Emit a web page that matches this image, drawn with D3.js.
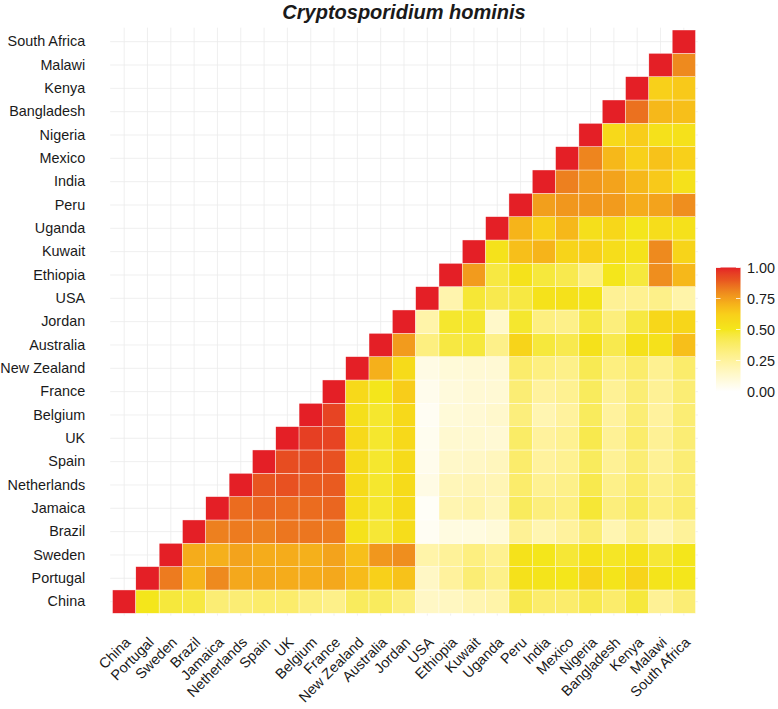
<!DOCTYPE html>
<meta charset="utf-8">
<style>
	body { margin: 0; background: #fff; }
	text { font-family: "Liberation Sans", Arial, sans-serif; fill: #1a1a1a; }
</style>
<svg width="778" height="709"></svg>
<script src="https://d3js.org/d3.v7.min.js"></script>
<script>
	// countries, in the same order on both axes (bottom->top, left->right)
	var countries = ['China', 'Portugal', 'Sweden', 'Brazil', 'Jamaica', 'Netherlands', 'Spain', 'UK',
		'Belgium', 'France', 'New Zealand', 'Australia', 'Jordan', 'USA', 'Ethiopia', 'Kuwait', 'Uganda',
		'Peru', 'India', 'Mexico', 'Nigeria', 'Bangladesh', 'Kenya', 'Malawi', 'South Africa']

	// one row per country: values from its own column (diagonal = 1) to South Africa
	var similarity = [
		[1, 0.50, 0.46, 0.45, 0.35, 0.35, 0.37, 0.37, 0.33, 0.30, 0.40, 0.40, 0.33, 0.15, 0.16, 0.20, 0.22, 0.43, 0.37, 0.37, 0.43, 0.37, 0.46, 0.27, 0.35],
		[1, 0.83, 0.70, 0.80, 0.73, 0.73, 0.72, 0.72, 0.73, 0.68, 0.62, 0.66, 0.15, 0.25, 0.35, 0.30, 0.53, 0.51, 0.50, 0.60, 0.51, 0.60, 0.51, 0.50],
		[1, 0.72, 0.71, 0.74, 0.72, 0.72, 0.71, 0.74, 0.67, 0.77, 0.79, 0.22, 0.26, 0.32, 0.28, 0.52, 0.50, 0.47, 0.52, 0.49, 0.52, 0.47, 0.50],
		[1, 0.82, 0.83, 0.82, 0.84, 0.84, 0.83, 0.52, 0.47, 0.55, 0.03, 0.08, 0.08, 0.10, 0.27, 0.20, 0.25, 0.35, 0.20, 0.30, 0.19, 0.26],
		[1, 0.86, 0.87, 0.86, 0.86, 0.87, 0.55, 0.48, 0.56, 0.02, 0.20, 0.22, 0.18, 0.40, 0.33, 0.32, 0.47, 0.33, 0.40, 0.32, 0.37],
		[1, 0.90, 0.91, 0.89, 0.89, 0.56, 0.48, 0.56, 0.07, 0.18, 0.19, 0.19, 0.37, 0.28, 0.30, 0.43, 0.30, 0.37, 0.30, 0.35],
		[1, 0.92, 0.92, 0.91, 0.56, 0.48, 0.56, 0.05, 0.14, 0.15, 0.17, 0.37, 0.25, 0.28, 0.40, 0.27, 0.35, 0.27, 0.35],
		[1, 0.95, 0.94, 0.57, 0.48, 0.57, 0.04, 0.12, 0.12, 0.11, 0.38, 0.25, 0.28, 0.43, 0.27, 0.37, 0.27, 0.35],
		[1, 0.94, 0.54, 0.48, 0.57, 0.03, 0.10, 0.11, 0.13, 0.33, 0.20, 0.25, 0.40, 0.25, 0.35, 0.25, 0.35],
		[1, 0.57, 0.50, 0.63, 0.05, 0.09, 0.11, 0.11, 0.35, 0.25, 0.28, 0.40, 0.27, 0.35, 0.27, 0.35],
		[1, 0.71, 0.56, 0.07, 0.10, 0.11, 0.11, 0.37, 0.32, 0.30, 0.42, 0.32, 0.37, 0.28, 0.37],
		[1, 0.76, 0.32, 0.45, 0.46, 0.30, 0.60, 0.46, 0.43, 0.53, 0.43, 0.53, 0.53, 0.67],
		[1, 0.22, 0.48, 0.48, 0.14, 0.48, 0.32, 0.30, 0.45, 0.33, 0.45, 0.58, 0.59],
		[1, 0.21, 0.47, 0.43, 0.45, 0.52, 0.53, 0.51, 0.27, 0.28, 0.30, 0.22],
		[1, 0.76, 0.45, 0.52, 0.46, 0.43, 0.32, 0.50, 0.46, 0.79, 0.69],
		[1, 0.52, 0.67, 0.70, 0.60, 0.62, 0.55, 0.52, 0.80, 0.60],
		[1, 0.70, 0.62, 0.69, 0.54, 0.58, 0.50, 0.55, 0.53],
		[1, 0.75, 0.77, 0.77, 0.76, 0.72, 0.74, 0.79],
		[1, 0.82, 0.77, 0.74, 0.69, 0.64, 0.53],
		[1, 0.81, 0.69, 0.62, 0.66, 0.62],
		[1, 0.57, 0.63, 0.53, 0.53],
		[1, 0.85, 0.69, 0.67],
		[1, 0.62, 0.64],
		[1, 0.80],
		[1]
	]

	var legendTicks = [0, 0.25, 0.5, 0.75, 1]

	var svg = d3.select('svg')

	// panel (tiles + 0.1 band expansion like ggplot)
	var x = d3.scaleBand().domain(countries).range([112.5, 695.5]),
		y = d3.scaleBand().domain(countries).range([613.3, 30])
	var bw = x.bandwidth(), bh = y.bandwidth()
	var px0 = 112.5 - bw * 0.1, px1 = 695.5 + bw * 0.1,
		py0 = 30 - bh * 0.1, py1 = 613.3 + bh * 0.1

	// white -> yellow -> amber -> orange -> red
	var color = d3.scaleLinear()
		.domain([0, 0.5, 0.62, 0.7, 0.8, 0.9, 1])
		.range(['#ffffff', '#f4e61b', '#f8d01a', '#f6b41a', '#ee8a1e', '#e85520', '#e41f26'])
		.interpolate(d3.interpolateLab)

	var cells = []
	similarity.forEach(function (row, j) {
		row.forEach(function (v, k) {
			cells.push({ row: countries[j], col: countries[j + k], value: v })
		})
	})

	// grid lines
	var grid = svg.append('g').attr('stroke', '#ebebeb').attr('stroke-width', 0.8)
	grid.selectAll('.vline').data(countries).enter().append('line')
		.attr('x1', d => x(d) + bw / 2).attr('x2', d => x(d) + bw / 2)
		.attr('y1', py0).attr('y2', py1)
	grid.selectAll('.hline').data(countries).enter().append('line')
		.attr('y1', d => y(d) + bh / 2).attr('y2', d => y(d) + bh / 2)
		.attr('x1', px0).attr('x2', px1)

	// tiles
	svg.append('g').selectAll('rect')
		.data(cells)
		.enter()
		.append('rect')
		.attr('x', d => x(d.col))
		.attr('y', d => y(d.row))
		.attr('width', bw)
		.attr('height', bh)
		.attr('fill', d => color(d.value))
		.attr('stroke', '#fff')
		.attr('stroke-width', 0.4)

	// y axis
	var yAxis = svg.append('g')
		.attr('transform', 'translate(' + px0 + ',0)')
		.call(d3.axisLeft(y).tickSize(0).tickPadding(25))
	yAxis.select('.domain').remove()
	yAxis.selectAll('text').attr('font-size', 14.4).attr('fill', '#1a1a1a')
		.style('font-family', '"Liberation Sans", Arial, sans-serif')

	// x axis, rotated labels
	var xAxis = svg.append('g')
		.attr('transform', 'translate(0,636)')
		.call(d3.axisBottom(x).tickSize(0).tickPadding(0))
	xAxis.select('.domain').remove()
	xAxis.selectAll('text')
		.attr('font-size', 14.4)
		.attr('fill', '#1a1a1a')
		.style('font-family', '"Liberation Sans", Arial, sans-serif')
		.attr('y', 0)
		.attr('dy', '0.71em')
		.attr('text-anchor', 'end')
		.attr('transform', 'rotate(-45)')

	// title
	svg.append('text')
		.attr('x', (px0 + px1) / 2)
		.attr('y', 18.5)
		.attr('text-anchor', 'middle')
		.attr('font-size', 20)
		.attr('font-weight', 'bold')
		.attr('font-style', 'italic')
		.text('Cryptosporidium hominis')

	// legend colour bar
	var ly = d3.scaleLinear().domain([0, 1]).range([391.5, 267.5])
	var grad = svg.append('defs').append('linearGradient')
		.attr('id', 'grad').attr('x1', 0).attr('y1', 1).attr('x2', 0).attr('y2', 0)
	grad.selectAll('stop').data(d3.range(0, 1.0001, 0.02)).enter().append('stop')
		.attr('offset', d => d)
		.attr('stop-color', d => color(d))
	svg.append('rect')
		.attr('x', 716).attr('y', ly(1))
		.attr('width', 24.5).attr('height', ly(0) - ly(1))
		.attr('fill', 'url(#grad)')

	var lg = svg.append('g')
	lg.selectAll('.tl').data(legendTicks).enter().append('line')
		.attr('x1', 716).attr('x2', 720.5)
		.attr('y1', d => ly(d)).attr('y2', d => ly(d))
		.attr('stroke', '#fff').attr('stroke-width', 0.8)
	lg.selectAll('.tr').data(legendTicks).enter().append('line')
		.attr('x1', 736).attr('x2', 740.5)
		.attr('y1', d => ly(d)).attr('y2', d => ly(d))
		.attr('stroke', '#fff').attr('stroke-width', 0.8)
	lg.selectAll('text').data(legendTicks).enter().append('text')
		.attr('x', 747)
		.attr('y', d => ly(d))
		.attr('dy', '0.35em')
		.attr('font-size', 14.4)
		.text(d => d3.format('.2f')(d))
</script>
